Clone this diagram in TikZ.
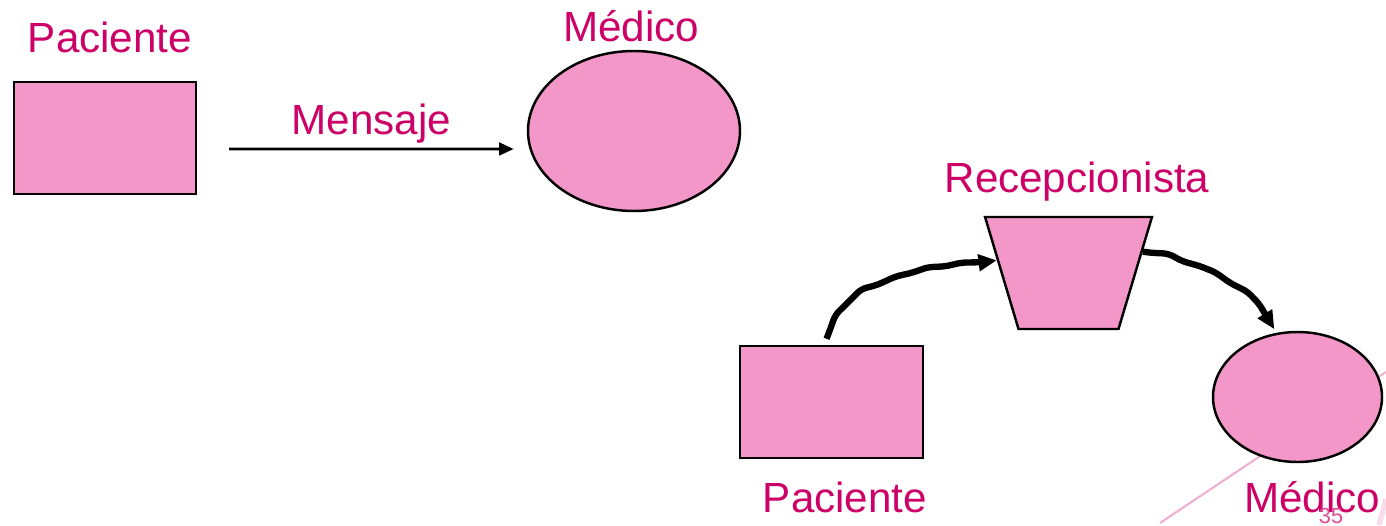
\documentclass[tikz,border=0pt]{standalone}
\usepackage{fontspec}
\setmainfont{Liberation Sans}
\usetikzlibrary{shapes.geometric,arrows.meta,decorations.pathmorphing}

\definecolor{rosa}{RGB}{243,150,200}
\definecolor{titulo}{RGB}{204,0,102}
\definecolor{rosaclaro}{RGB}{242,175,212}

\tikzset{
  caja/.style={draw=black, line width=0.7pt, fill=rosa},
  rotulo/.style={anchor=base, text=titulo, font=\fontsize{12}{14}\selectfont},
  mensaje/.style={-{Triangle[length=4.2pt,width=3.6pt]}, line width=0.8pt},
  flujo/.style={-{Triangle[length=5.2pt,width=4.6pt]}, line width=1.8pt,
    decorate, decoration={random steps, segment length=5pt, amplitude=0.6pt,
    pre length=2pt, post length=4pt}, rounded corners=1.5pt}
}

\begin{document}
\begin{tikzpicture}
\useasboundingbox (0,0) rectangle (13.86,5.25);

% slide corner lines
\draw[rosaclaro, line width=0.6pt] (11.60,0.02) -- (13.86,1.53);
\draw[rosaclaro!45, line width=1.5pt] (13.79,0) -- (13.86,0.26);

% direct: patient -> doctor
\node[caja, rectangle, minimum width=1.82cm, minimum height=1.12cm] (pac1) at (1.05,3.87) {};
\node[caja, ellipse, minimum width=2.12cm, minimum height=1.60cm] (med1) at (6.34,3.94) {};
\node[rotulo] (tPac1) at (1.10,4.72) {Paciente};
\node[rotulo] (tMed1) at (6.31,4.83) {Médico};
\draw[mensaje] ([xshift=0.32cm,yshift=-0.11cm]pac1.east) -- ([xshift=-0.13cm,yshift=-0.18cm]med1.west)
  node[rotulo, midway, yshift=0.14cm] (tMsj) {Mensaje};

% through the receptionist
\node[caja, rectangle, minimum width=1.83cm, minimum height=1.12cm] (pac2) at (8.315,1.23) {};
\node[caja, trapezium, trapezium stretches=true, shape border rotate=180, trapezium angle=71.5,
  minimum width=1.67cm, minimum height=1.12cm] (rec) at (10.685,2.52) {};
\node[caja, ellipse, minimum width=1.69cm, minimum height=1.30cm] (med2) at (12.975,1.28) {};
\node[rotulo] (tRec) at (10.77,3.32) {Recepcionista};
\node[rotulo] (tPac2) at (8.45,0.13) {Paciente};
\node[rotulo] (tMed2) at (13.12,0.13) {Médico};

\draw[flujo] ([xshift=-0.05cm,yshift=0.06cm]pac2.north) to[out=70, in=188] (rec.170);
\draw[flujo] (rec.16) to[out=-8, in=122] ([yshift=0.04cm]med2.110);

% page number
\node[anchor=base, text=titulo!70, font=\fontsize{6.2}{7}\selectfont] (num) at (13.31,0.02) {35};
\end{tikzpicture}
\end{document}
